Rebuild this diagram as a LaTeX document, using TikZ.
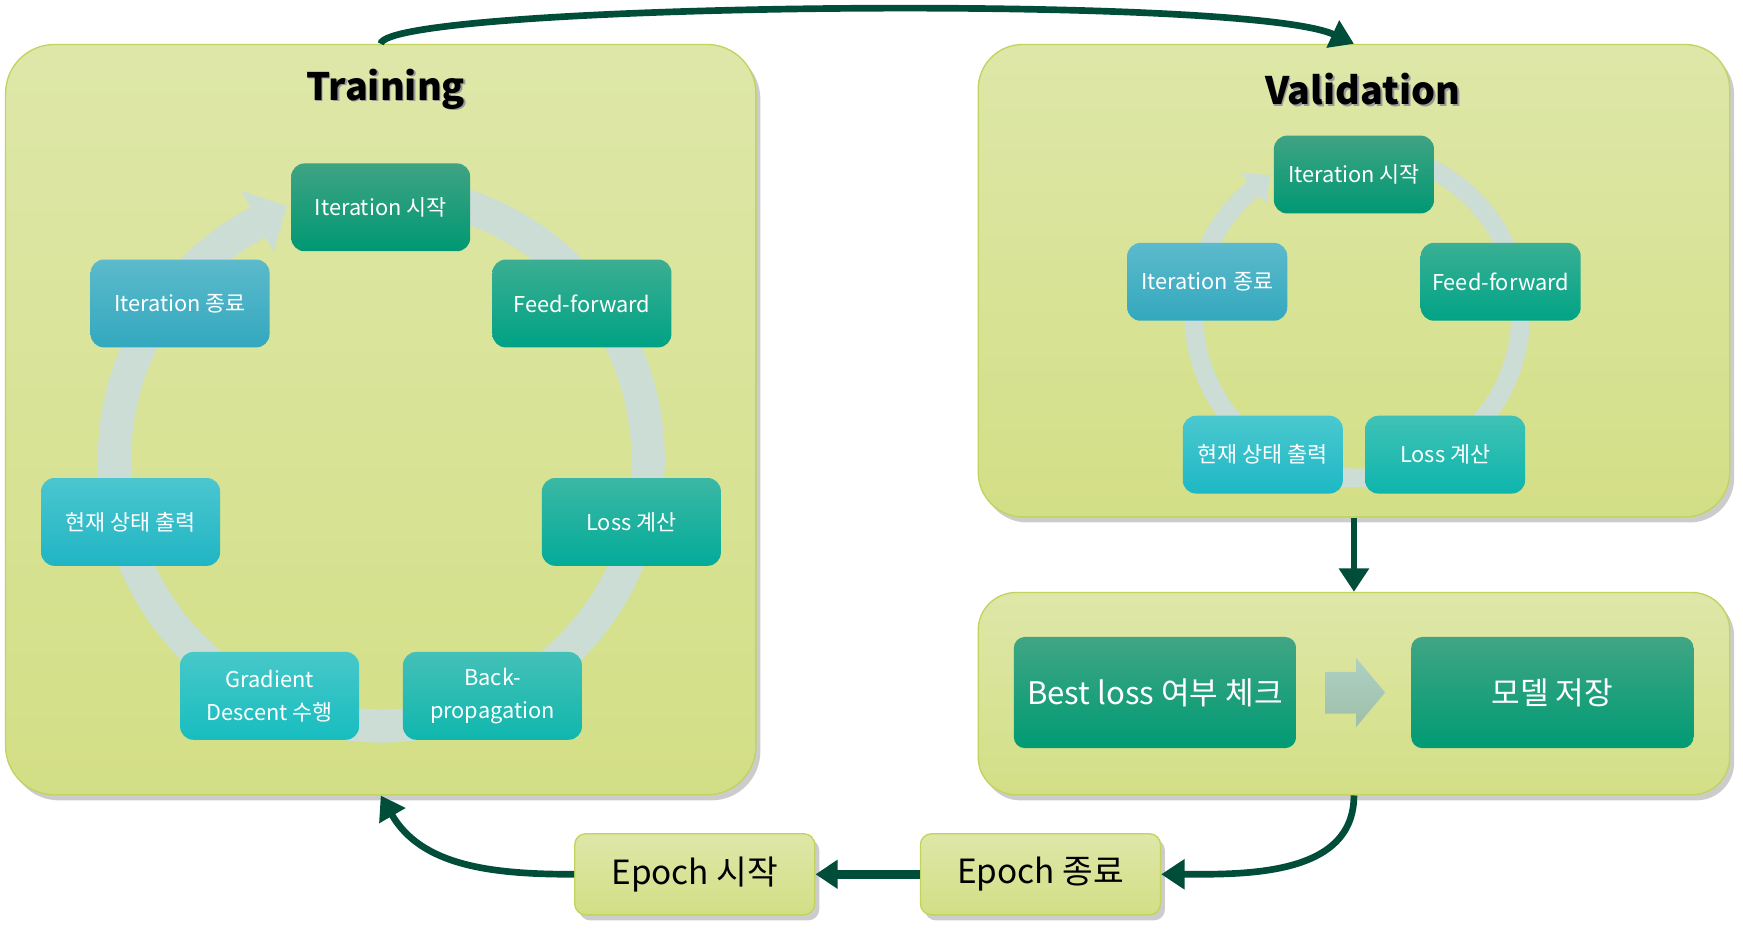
\documentclass[tikz,border=0pt]{standalone}
\usepackage{fontspec}
\setmainfont{Noto Sans CJK KR}
\usetikzlibrary{arrows.meta,shadows}
\definecolor{paneltop}{HTML}{DEE7A8}
\definecolor{panelbot}{HTML}{D3DF86}
\definecolor{panelborder}{HTML}{C2D35E}
\definecolor{conn}{HTML}{004D3A}
\definecolor{ringc}{HTML}{CCDDD6}
\definecolor{caT}{HTML}{3FA383}\definecolor{caB}{HTML}{009873}
\definecolor{cbT}{HTML}{3BAE92}\definecolor{cbB}{HTML}{00A285}
\definecolor{ccT}{HTML}{3BB8A5}\definecolor{ccB}{HTML}{03AB99}
\definecolor{cdT}{HTML}{44C0B7}\definecolor{cdB}{HTML}{0FB7AE}
\definecolor{ceT}{HTML}{48C8C9}\definecolor{ceB}{HTML}{17BDC0}
\definecolor{cfT}{HTML}{4BC6CF}\definecolor{cfB}{HTML}{20B5C4}
\definecolor{cgT}{HTML}{5CBACC}\definecolor{cgB}{HTML}{33A8BE}
\definecolor{vbT}{HTML}{3AB094}\definecolor{vbB}{HTML}{00A386}
\definecolor{vcT}{HTML}{40C2B6}\definecolor{vcB}{HTML}{0DB5AC}
\definecolor{vdT}{HTML}{4BC8CF}\definecolor{vdB}{HTML}{1DB8C5}
\definecolor{bT}{HTML}{40A584}\definecolor{bB}{HTML}{009B74}
\definecolor{arT}{HTML}{AED0C4}\definecolor{arB}{HTML}{9FBFA8}
\tikzset{
  panel/.style={draw=panelborder, line width=0.6pt, top color=paneltop, bottom color=panelbot,
    drop shadow={shadow xshift=2pt, shadow yshift=-2.5pt, fill=black, opacity=0.2}},
  gbox/.style 2 args={top color=#1, bottom color=#2, text=white, inner sep=0pt, align=center,
    rounded corners=6pt, font=\fontsize{9.8}{15}\selectfont},
  tbox/.style={minimum width=80.5pt, minimum height=39.5pt},
  vbox/.style={minimum width=72pt, minimum height=35pt},
  conn/.style={draw=conn, line width=3pt, -{Triangle[length=10.5pt,width=13pt]}},
  title/.style={font=\fontsize{17}{20}\selectfont\bfseries},
  epoch/.style={panel, rounded corners=5pt, minimum width=108pt, minimum height=36.5pt,
    font=\fontsize{15}{18}\selectfont, text=black}
}
\begin{document}
\begin{tikzpicture}[x=0.5pt,y=-0.5pt]
\useasboundingbox (0,0) rectangle (1568,835.7);
\fill[white] (0,0) rectangle (1568,835.7);

% panels
\node[panel, rounded corners=22pt, minimum width=337.5pt, minimum height=337.5pt] (train) at (342.5,377.5) {};
\node[panel, rounded corners=20pt, minimum width=338pt, minimum height=212.5pt] (val) at (1218,252.5) {};
\node[panel, rounded corners=17pt, minimum width=338pt, minimum height=91pt] (best) at (1218,624) {};

% titles
\node[title, text=black!40] at (348.5,81.5) {Training};
\node[title] (ttitle) at (347,80) {Training};
\node[title, text=black!40] at (1227.5,81.5) {Validation};
\node[title] (vtitle) at (1226,80) {Validation};

% training ring
\draw[ringc, line width=15pt] ([shift={(343,413)}]-75:240) arc[start angle=-75, end angle=242.5, radius=240];
\fill[ringc] ([shift={(343,413)}]-117.5:210) -- ([shift={(343,413)}]-110.5:243) -- ([shift={(343,413)}]-117.5:272) -- cycle;

% validation ring
\draw[ringc, line width=8.5pt] ([shift={(1221,283)}]-75:147) arc[start angle=-75, end angle=230.5, radius=147];
\fill[ringc] ([shift={(1221,283)}]-129.5:129) -- ([shift={(1221,283)}]-122:148) -- ([shift={(1221,283)}]-129.5:165) -- cycle;

% training boxes
\node[gbox={caT}{caB}, tbox] (t1) at (342.5,186.5) {Iteration 시작};
\node[gbox={cbT}{cbB}, tbox] (t2) at (523.5,273) {Feed-forward};
\node[gbox={ccT}{ccB}, tbox] (t3) at (568,469.5) {Loss 계산};
\node[gbox={cdT}{cdB}, tbox] (t4) at (443,626) {Back-\\propagation};
\node[gbox={ceT}{ceB}, tbox] (t5) at (242.5,626) {Gradient\\Descent 수행};
\node[gbox={cfT}{cfB}, tbox] (t6) at (117.5,469.5) {현재 상태 출력};
\node[gbox={cgT}{cgB}, tbox] (t7) at (162,273) {Iteration 종료};

% validation boxes
\node[gbox={caT}{caB}, vbox] (v1) at (1218,157) {Iteration 시작};
\node[gbox={vbT}{vbB}, vbox] (v2) at (1350,253.5) {Feed-forward};
\node[gbox={vcT}{vcB}, vbox] (v3) at (1300,409) {Loss 계산};
\node[gbox={vdT}{vdB}, vbox] (v4) at (1136,409) {현재 상태 출력};
\node[gbox={cgT}{cgB}, vbox] (v5) at (1086,253.5) {Iteration 종료};

% best loss / model
\node[gbox={bT}{bB}, rounded corners=5pt, minimum width=127pt, minimum height=50pt,
  font=\fontsize{14}{16}\selectfont] (bl) at (1039,623) {Best loss 여부 체크};
\node[gbox={bT}{bB}, rounded corners=5pt, minimum width=127pt, minimum height=50pt,
  font=\fontsize{14}{16}\selectfont] (ms) at (1396.5,623) {모델 저장};
\shade[top color=arT, bottom color=arB]
  (1192,604.5) -- (1220,604.5) -- (1220,592) -- (1246,623) -- (1220,654) -- (1220,642) -- (1192,642) -- cycle;

% epoch boxes
\node[epoch] (e1) at (625,786.5) {Epoch 시작};
\node[epoch] (e2) at (936,786.5) {Epoch 종료};

% connectors
\draw[conn] (train.north) .. controls (348,3) and (1120,-6) .. (val.north);
\draw[conn] (val.south) -- (best.north);
\draw[conn] (best.south) to[out=-90,in=0] (e2.east);
\draw[conn, line width=4pt, -{Triangle[length=10pt,width=12.5pt]}] (e2.west) -- (e1.east);
\draw[conn] (e1.west) to[out=180,in=-60] (train.south);
\end{tikzpicture}
\end{document}
